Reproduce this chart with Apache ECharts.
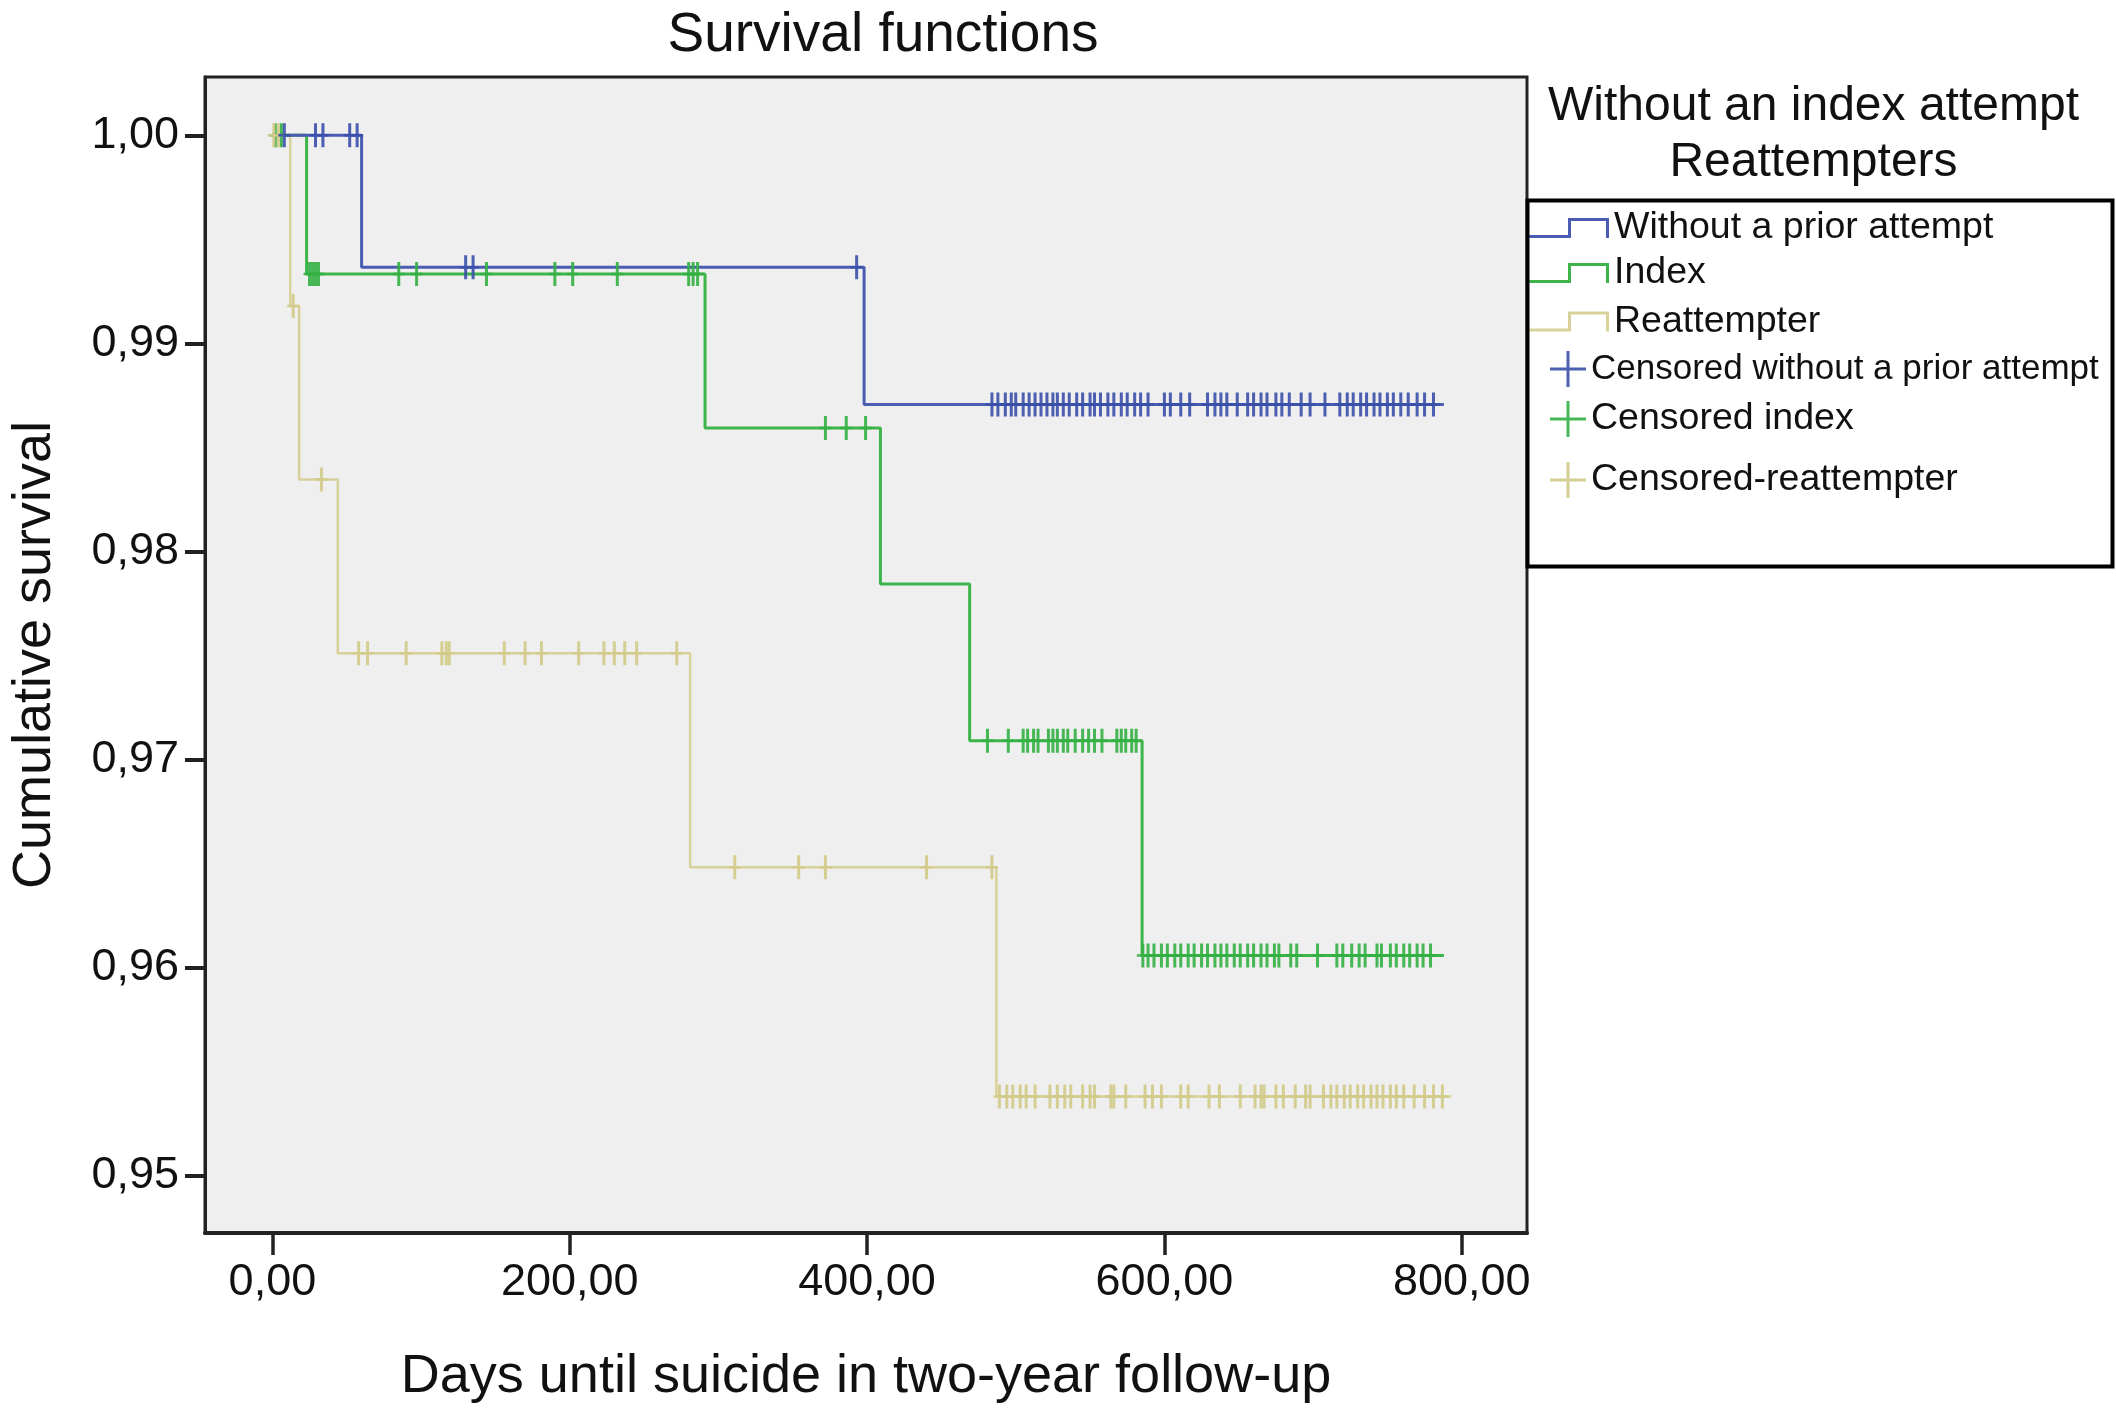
<!DOCTYPE html>
<html>
<head>
<meta charset="utf-8">
<script src="https://cdn.jsdelivr.net/npm/echarts@6/dist/echarts.min.js"></script>
<style>
html,body{margin:0;padding:0;background:#fff;}
#chart{width:2116px;height:1409px;}
</style>
</head>
<body>
<div id="chart"></div>
<script>
// ---- Data ----
const xTickValues = [0, 200, 400, 600, 800];
const yTickValues = [0.95, 0.96, 0.97, 0.98, 0.99, 1.00];

const seriesNames = ['Without a prior attempt', 'Index', 'Reattempter'];
const censorNames = ['Censored without a prior attempt', 'Censored index', 'Censored-reattempter'];

// Kaplan-Meier step curves: [day, cumulative survival]
const curveWithoutPrior = [[0, 1.0], [60, 0.99366], [398, 0.98706], [788, 0.98706]];
const curveIndex = [[0, 1.0], [23, 0.99334], [291, 0.98593], [409, 0.97843], [469, 0.9709], [585, 0.96057], [788, 0.96057]];
const curveReattempter = [[0, 1.0], [12, 0.9918], [18, 0.98346], [44, 0.9751], [281, 0.96481], [487, 0.95379], [793, 0.95379]];

// Censoring times (days)
const censorWithoutPrior = [8, 29, 34, 52, 57, 130, 135, 393,
  484, 488, 493, 497, 500, 505, 509, 513, 517, 521,
  525, 528, 532, 536, 541, 545, 550, 553, 557, 562, 566, 571, 575, 580, 584, 589,
  600, 604, 611, 617,
  629, 634, 638, 642, 649, 656, 660, 665, 669, 675, 679, 684,
  692, 698, 708,
  718, 723, 727, 732, 736, 741, 745, 750, 754, 759, 764, 770, 775, 781];
const censorIndex = [2, 6, 25, 27, 29, 31, 85, 97, 144, 190, 202, 232, 280, 283, 286,
  372, 386, 399,
  481, 495, 505, 508, 512, 515, 522, 525, 528, 532, 535, 540, 545, 549, 553, 558, 568, 571, 574, 578, 581,
  585.5, 589, 593, 598, 602, 607, 611, 616, 620, 625, 629, 634, 638, 642, 647, 651, 656, 660, 665, 669, 674, 677,
  685, 689, 703,
  716, 720, 726, 731, 735, 743, 746, 752, 756, 761, 765, 770, 774, 779];
const censorReattempter = [1, 4, 14, 33,
  58, 64, 90, 114, 117, 119, 156, 170, 181, 206, 223, 230, 237, 245, 272,
  311, 354, 372, 440, 484,
  489, 494, 498, 503, 507, 513, 523, 528, 533, 537, 545, 550, 553, 564, 566, 574,
  587, 592, 598, 611, 616, 630, 637, 651, 661, 665, 667, 675, 680, 688, 695, 698,
  707, 712, 716, 721, 725, 730, 734, 739, 743, 747, 752, 756, 761, 768, 775, 781, 787];

// ---- Helpers ----
function levelAt(curve, t) {
  let v = curve[0][1];
  for (const p of curve) { if (p[0] <= t) v = p[1]; }
  return v;
}
function censorPoints(curve, times) { return times.map(t => [t, levelAt(curve, t)]); }
const fmt = v => Number(v).toFixed(2).replace('.', ',');

const FONT = '"Liberation Sans", Arial, Helvetica, sans-serif';
const lineColors = ['#4a5db3', '#3db54a', '#d8d19a'];
const markColors = ['#3a4fa8', '#33b043', '#d2ca88'];

const plusMark = 'path://M4.5,0 H7.5 V24 H4.5 Z M0,10.75 H12 V13.25 H0 Z';
const plusIcon = 'path://M16.5,0 H19.5 V36 H16.5 Z M0,16.5 H36 V19.5 H0 Z';
const stepIcon = 'path://M0,17 H39 V0 H80 V20 H77 V3 H42 V20 H0 Z';

const chart = echarts.init(document.getElementById('chart'), null, {renderer: 'canvas'});

function legendItem(name, icon, left, centerY, w, h, fs) {
  return {
    data: [{name: name, icon: icon}],
    left: left, top: centerY - 20, orient: 'vertical', padding: 0,
    itemWidth: w, itemHeight: h, selectedMode: false,
    textStyle: {fontSize: fs, color: '#111', fontFamily: FONT, lineHeight: 40}
  };
}

const option = {
  animation: false,
  backgroundColor: '#ffffff',
  title: {
    text: 'Survival functions', left: 878, top: 3, textAlign: 'center',
    textStyle: {fontSize: 55, fontWeight: 'normal', color: '#111', fontFamily: FONT, lineHeight: 56}
  },
  grid: {
    left: 201, top: 77, width: 1326, height: 1159,
    show: true, backgroundColor: '#efefef', borderColor: '#222', borderWidth: 3
  },
  legend: [
    legendItem(seriesNames[0], stepIcon, 1529, 228, 80, 20, 37.5),
    legendItem(seriesNames[1], stepIcon, 1529, 273, 80, 20, 37.5),
    legendItem(seriesNames[2], stepIcon, 1529, 321.5, 80, 20, 37.5),
    legendItem(censorNames[0], plusIcon, 1550, 369, 36, 36, 35),
    legendItem(censorNames[1], plusIcon, 1550, 419, 36, 36, 37.5),
    legendItem(censorNames[2], plusIcon, 1550, 480, 36, 36, 37.5)
  ],
  xAxis: {
    type: 'value', min: -45.33, max: 843.9,
    name: 'Days until suicide in two-year follow-up', nameLocation: 'middle', nameGap: 117,
    nameTextStyle: {fontSize: 54, color: '#111', fontFamily: FONT},
    axisLine: {show: true, onZero: false, lineStyle: {color: '#222', width: 4}},
    axisTick: {show: true, length: 22, customValues: xTickValues, lineStyle: {color: '#222', width: 3.5}},
    axisLabel: {customValues: xTickValues, formatter: fmt, margin: 27, fontSize: 45, color: '#111', fontFamily: FONT},
    splitLine: {show: false}
  },
  yAxis: {
    type: 'value', min: 0.947233, max: 1.002805,
    name: 'Cumulative survival', nameLocation: 'middle', nameGap: 143, nameRotate: 90,
    nameTextStyle: {fontSize: 54, color: '#111', fontFamily: FONT},
    axisLine: {show: true, onZero: false, lineStyle: {color: '#222', width: 3}},
    axisTick: {show: true, length: 20, customValues: yTickValues, lineStyle: {color: '#222', width: 4}},
    axisLabel: {customValues: yTickValues, formatter: fmt, margin: 26, fontSize: 45, color: '#111', fontFamily: FONT},
    splitLine: {show: false}
  },
  series: [
    {name: seriesNames[0], type: 'line', step: 'end', data: curveWithoutPrior, showSymbol: false, z: 4,
     color: lineColors[0], lineStyle: {color: lineColors[0], width: 3}},
    {name: seriesNames[1], type: 'line', step: 'end', data: curveIndex, showSymbol: false, z: 3,
     color: lineColors[1], lineStyle: {color: lineColors[1], width: 3}},
    {name: seriesNames[2], type: 'line', step: 'end', data: curveReattempter, showSymbol: false, z: 2,
     color: lineColors[2], lineStyle: {color: lineColors[2], width: 2.5}},
    {name: censorNames[0], type: 'scatter', data: censorPoints(curveWithoutPrior, censorWithoutPrior),
     symbol: plusMark, symbolSize: [12, 24], z: 6, itemStyle: {color: markColors[0], opacity: 0.9}},
    {name: censorNames[1], type: 'scatter', data: censorPoints(curveIndex, censorIndex),
     symbol: plusMark, symbolSize: [12, 24], z: 5, itemStyle: {color: markColors[1], opacity: 0.9}},
    {name: censorNames[2], type: 'scatter', data: censorPoints(curveReattempter, censorReattempter),
     symbol: plusMark, symbolSize: [12, 24], z: 5, itemStyle: {color: markColors[2], opacity: 0.9}}
  ],
  graphic: [
    {type: 'text', x: 1813.5, y: 106.5, style: {text: 'Without an index attempt', font: '48px ' + FONT, fill: '#111', align: 'center', verticalAlign: 'middle'}},
    {type: 'text', x: 1813.5, y: 162.5, style: {text: 'Reattempters', font: '48px ' + FONT, fill: '#111', align: 'center', verticalAlign: 'middle'}},
    {type: 'rect', shape: {x: 1527.5, y: 200.5, width: 585, height: 366}, style: {fill: 'none', stroke: '#000', lineWidth: 4}, z: 10}
  ]
};
chart.setOption(option);
</script>
</body>
</html>
